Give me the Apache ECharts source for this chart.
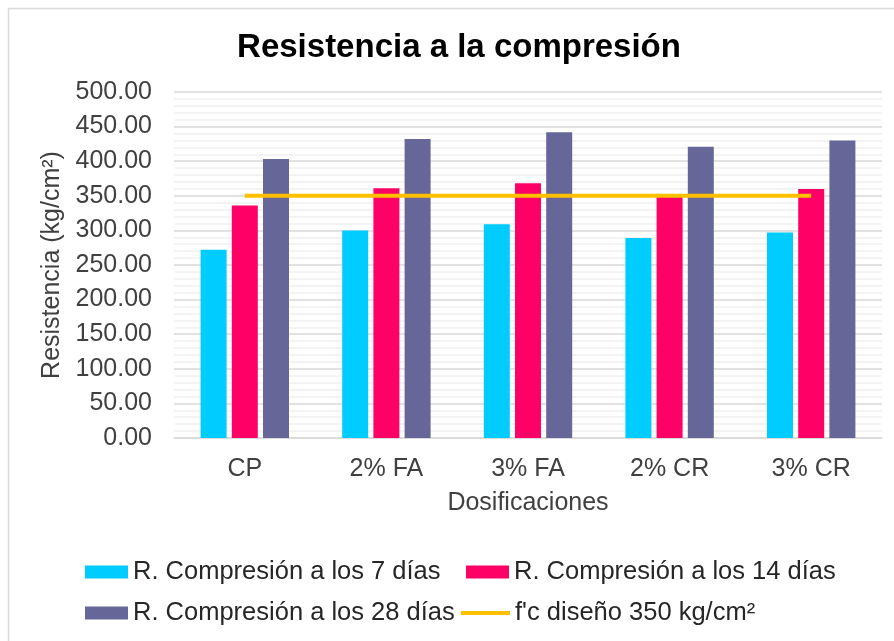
<!DOCTYPE html>
<html>
<head>
<meta charset="utf-8">
<script src="https://cdn.jsdelivr.net/npm/echarts@6/dist/echarts.min.js"></script>
<style>
  html, body { margin: 0; padding: 0; background: #fff; }
  #chart { width: 894px; height: 641px; }
</style>
</head>
<body>
<div id="chart"></div>
<script>
// datos
const dosificaciones = ["CP", "2% FA", "3% FA", "2% CR", "3% CR"];
const dias7 = [272, 300, 309, 289, 297];
const dias14 = [336, 361, 368, 349, 360];
const dias28 = [403, 432, 442, 421, 430];
const fcDiseno = [350, 350, 350, 350, 350];
const yTicks = [0, 50, 100, 150, 200, 250, 300, 350, 400, 450, 500];

const nombres = [
  "R. Compresión a los 7 días",
  "R. Compresión a los 14 días",
  "R. Compresión a los 28 días",
  "f'c diseño 350 kg/cm²"
];
const colores = ["#00CCFF", "#FF0066", "#666699", "#FFC000"];

const font = "'Liberation Sans', Arial, sans-serif";

const legendText = { fontFamily: font, fontSize: 25.5, color: "#262626", lineHeight: 26 };
function leyenda(nombre, left, top, extra) {
  return Object.assign({
    data: [nombre],
    left: left,
    top: top,
    padding: 0,
    itemWidth: 43,
    itemHeight: 13,
    icon: "rect",
    selectedMode: false,
    textStyle: legendText
  }, extra || {});
}

const chart = echarts.init(document.getElementById("chart"));
chart.setOption({
  animation: false,
  color: colores,
  graphic: [{
    type: "rect",
    shape: { x: 8.5, y: 8.5, width: 900, height: 700 },
    style: { fill: "none", stroke: "#d9d9d9", lineWidth: 1.5 },
    silent: true
  }],
  title: {
    text: "Resistencia a la compresión",
    left: 454,
    textAlign: "center",
    top: 26,
    textStyle: { fontFamily: font, fontSize: 33, fontWeight: "bold", color: "#000" }
  },
  legend: [
    leyenda(nombres[0], 85, 559),
    leyenda(nombres[1], 466, 559),
    leyenda(nombres[2], 85, 600),
    leyenda(nombres[3], 461, 600, { itemWidth: 49, itemHeight: 4 })
  ],
  grid: { left: 174, right: 12, top: 92, bottom: 203 },
  xAxis: {
    type: "category",
    data: dosificaciones,
    name: "Dosificaciones",
    nameLocation: "middle",
    nameGap: 53,
    nameTextStyle: { fontFamily: font, fontSize: 25, color: "#404040" },
    axisLine: { lineStyle: { color: "#d9d9d9", width: 1.5 } },
    axisTick: { show: false },
    axisLabel: { fontFamily: font, fontSize: 25, color: "#404040", margin: 19 }
  },
  yAxis: {
    type: "value",
    min: yTicks[0],
    max: yTicks[yTicks.length - 1],
    interval: 50,
    name: "Resistencia (kg/cm²)",
    nameLocation: "middle",
    nameGap: 108,
    nameTextStyle: { fontFamily: font, fontSize: 25, color: "#404040" },
    axisLine: { show: false },
    axisTick: { show: false },
    axisLabel: {
      fontFamily: font, fontSize: 25, color: "#404040", margin: 22,
      formatter: v => v.toFixed(2)
    },
    splitLine: { lineStyle: { color: "#d9d9d9", width: 1.5 } },
    minorTick: { show: false, splitNumber: 5 },
    minorSplitLine: { show: true, lineStyle: { color: "#efefef", width: 1.5 } }
  },
  series: [
    { name: nombres[0], type: "bar", data: dias7, barWidth: 26, barGap: "20%" },
    { name: nombres[1], type: "bar", data: dias14, barWidth: 26, barGap: "20%" },
    { name: nombres[2], type: "bar", data: dias28, barWidth: 26, barGap: "20%" },
    {
      name: nombres[3], type: "line", data: fcDiseno,
      symbol: "none", z: 5,
      lineStyle: { color: colores[3], width: 4 }
    }
  ]
});
</script>
</body>
</html>
